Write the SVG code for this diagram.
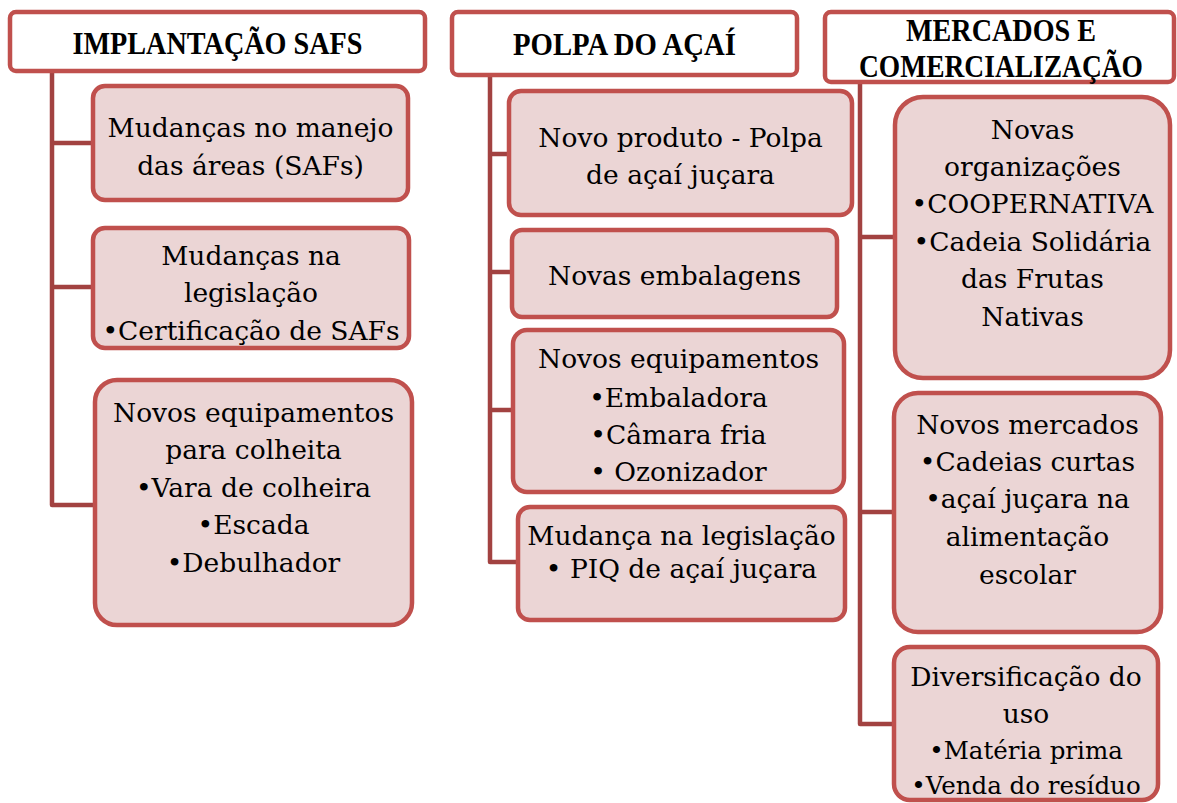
<svg xmlns="http://www.w3.org/2000/svg" width="1177" height="803" viewBox="0 0 1177 803">
<style>
.hdr{fill:#FFFFFF;stroke:#C0504D;stroke-width:4.5}
.box{fill:#EBD5D5;stroke:#C0504D;stroke-width:4.5}
.con{fill:none;stroke:#A24241;stroke-width:4.5;stroke-linejoin:round}
.ht{font-family:"Liberation Serif","DejaVu Serif",serif;font-weight:bold;font-size:32px;fill:#000;text-anchor:middle}
.t{font-family:"DejaVu Serif","Liberation Serif",serif;font-size:26.5px;fill:#000;text-anchor:middle}
.s{font-size:24.5px}
</style>
<rect width="1177" height="803" fill="#FFFFFF"/>
<g id="connectors">
<path class="con" d="M52 71 V505 H95 M52 143 H93 M52 287 H93"/>
<path class="con" d="M490 75 V562 H518 M490 154 H509 M490 272 H512 M490 410 H513"/>
<path class="con" d="M860 82 V724 H894 M860 237 H895 M860 512 H894"/>
</g>
<g id="h1"><rect class="hdr" x="10" y="12" width="415" height="59" rx="6"/><text class="ht" x="217.5" y="54" textLength="290" lengthAdjust="spacingAndGlyphs">IMPLANTAÇÃO SAFS</text></g>
<g id="h2"><rect class="hdr" x="452" y="12" width="345" height="63" rx="6"/><text class="ht" x="624.5" y="55" textLength="223" lengthAdjust="spacingAndGlyphs">POLPA DO AÇAÍ</text></g>
<g id="h3"><rect class="hdr" x="825" y="12" width="349" height="70" rx="6"/><text class="ht" x="1001" y="41" textLength="190" lengthAdjust="spacingAndGlyphs">MERCADOS E</text><text class="ht" x="1001" y="77" textLength="284" lengthAdjust="spacingAndGlyphs">COMERCIALIZAÇÃO</text></g>
<g id="n1"><rect class="box" x="93" y="86" width="315" height="114" rx="12"/><text class="t" x="250.5" y="137">Mudanças no manejo</text><text class="t" x="250.5" y="175">das áreas (SAFs)</text></g>
<g id="n2"><rect class="box" x="93" y="228" width="316" height="120" rx="12"/><text class="t" x="251" y="265">Mudanças na</text><text class="t" x="251" y="302">legislação</text><text class="t" x="251" y="340">•Certificação de SAFs</text></g>
<g id="n3"><rect class="box" x="95" y="380" width="317" height="245" rx="22"/><text class="t" x="253.5" y="422">Novos equipamentos</text><text class="t" x="253.5" y="459">para colheita</text><text class="t" x="253.5" y="497">•Vara de colheira</text><text class="t" x="253.5" y="534">•Escada</text><text class="t" x="253.5" y="572">•Debulhador</text></g>
<g id="n4"><rect class="box" x="509" y="91" width="343" height="124" rx="12"/><text class="t" x="680.5" y="147">Novo produto - Polpa</text><text class="t" x="680.5" y="184">de açaí juçara</text></g>
<g id="n5"><rect class="box" x="512" y="230" width="325" height="87" rx="10"/><text class="t" x="674.5" y="285">Novas embalagens</text></g>
<g id="n6"><rect class="box" x="513" y="330" width="331" height="162" rx="14"/><text class="t" x="678.5" y="368">Novos equipamentos</text><text class="t" x="678.5" y="407">•Embaladora</text><text class="t" x="678.5" y="444">•Câmara fria</text><text class="t" x="678.5" y="481">• Ozonizador</text></g>
<g id="n7"><rect class="box" x="518" y="507" width="327" height="113" rx="12"/><text class="t" x="681.5" y="545">Mudança na legislação</text><text class="t" x="681.5" y="578">• PIQ de açaí juçara</text></g>
<g id="n8"><rect class="box" x="895" y="97" width="275" height="281" rx="28"/><text class="t" x="1032.5" y="139">Novas</text><text class="t" x="1032.5" y="176">organizações</text><text class="t" x="1032.5" y="213">•COOPERNATIVA</text><text class="t" x="1032.5" y="251">•Cadeia Solidária</text><text class="t" x="1032.5" y="288">das Frutas</text><text class="t" x="1032.5" y="326">Nativas</text></g>
<g id="n9"><rect class="box" x="894" y="393" width="267" height="239" rx="24"/><text class="t" x="1027.5" y="434">Novos mercados</text><text class="t" x="1027.5" y="471">•Cadeias curtas</text><text class="t" x="1027.5" y="508">•açaí juçara na</text><text class="t" x="1027.5" y="546">alimentação</text><text class="t" x="1027.5" y="584">escolar</text></g>
<g id="n10"><rect class="box" x="894" y="647" width="264" height="153" rx="16"/><text class="t" x="1026" y="686">Diversificação do</text><text class="t" x="1026" y="723">uso</text><text class="t s" x="1026" y="759">•Matéria prima</text><text class="t s" x="1026" y="794">•Venda do resíduo</text></g>
</svg>
